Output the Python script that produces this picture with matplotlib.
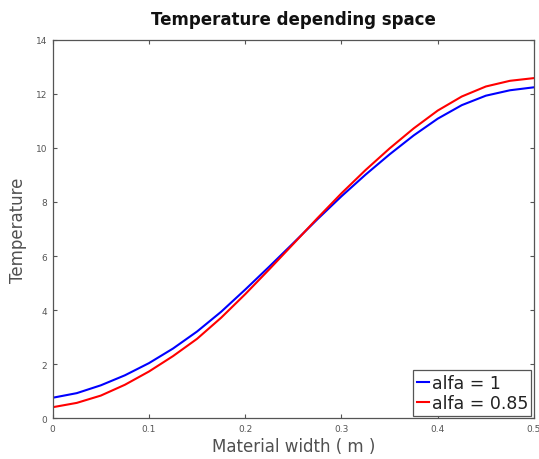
import matplotlib
matplotlib.use("Agg")
import matplotlib.pyplot as plt

# Data
x = [0.0, 0.025, 0.05, 0.075, 0.1, 0.125, 0.15, 0.175, 0.2, 0.225, 0.25,
     0.275, 0.3, 0.325, 0.35, 0.375, 0.4, 0.425, 0.45, 0.475, 0.5]
temp_alfa_1 = [0.76, 0.93, 1.22, 1.59, 2.04, 2.58, 3.21, 3.94, 4.76, 5.61, 6.48,
               7.36, 8.21, 9.01, 9.76, 10.46, 11.08, 11.58, 11.93, 12.13, 12.24]
temp_alfa_085 = [0.41, 0.57, 0.84, 1.24, 1.73, 2.30, 2.94, 3.72, 4.59, 5.51, 6.45,
                 7.40, 8.32, 9.18, 9.98, 10.72, 11.38, 11.90, 12.27, 12.48, 12.58]
labels = ["alfa = 1", "alfa = 0.85"]
xticks = [0, 0.1, 0.2, 0.3, 0.4, 0.5]
xticklabels = ["0", "0.1", "0.2", "0.3", "0.4", "0.5"]
yticks = [0, 2, 4, 6, 8, 10, 12, 14]

W, H = 539, 460
fig = plt.figure(figsize=(W / 100, H / 100), dpi=100)
left, right, bottom, top = 52.7, 534.0, 419.3, 40.7
ax = fig.add_axes([left / W, 1 - bottom / H, (right - left) / W, (bottom - top) / H])

ax.plot(x, temp_alfa_1, color="#0000ff", lw=1.5, label=labels[0])
ax.plot(x, temp_alfa_085, color="#ff0000", lw=1.5, label=labels[1])

ax.set_xlim(0, 0.5)
ax.set_ylim(0, 14)
ax.set_xticks(xticks)
ax.set_xticklabels(xticklabels)
ax.set_yticks(yticks)
ax.tick_params(direction="in", length=3, width=0.8, top=True, right=True,
               labelsize=6.5, labelcolor="#555555", color="#555555", pad=4)
for s in ax.spines.values():
    s.set_color("#555555")
    s.set_linewidth(0.9)

ax.set_title("Temperature depending space", fontsize=12, fontweight="bold",
             color="#111111", pad=11)
ax.set_xlabel("Material width ( m )", fontsize=12, color="#505050", labelpad=3)
ax.set_ylabel("Temperature", fontsize=12, color="#505050", labelpad=6)

leg = ax.legend(loc="lower right", fontsize=12.5, handlelength=0.7,
                handletextpad=0.15, borderpad=0.2, labelspacing=0.15,
                fancybox=False, framealpha=1, borderaxespad=0.15)
leg.get_frame().set_edgecolor("#555555")
leg.get_frame().set_linewidth(0.9)
for t in leg.get_texts():
    t.set_color("#222222")

fig.savefig("out.png", dpi=100)
